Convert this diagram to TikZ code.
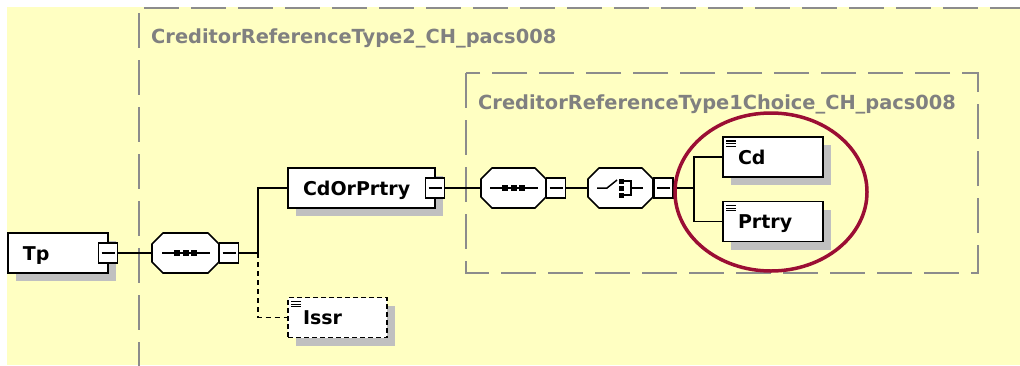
\documentclass[tikz,border=0pt]{standalone}
\usepackage{fontspec}
\setmainfont{DejaVu Sans}
\usetikzlibrary{shadows}
\definecolor{bgyellow}{RGB}{255,255,194}
\definecolor{dashgray}{RGB}{140,140,140}
\definecolor{lblgray}{RGB}{128,128,128}
\definecolor{shadowgray}{RGB}{192,192,192}
\definecolor{ovalred}{RGB}{155,14,52}
\newcommand\octpath[1]{([xshift=11pt]#1.north west) -- ([xshift=-11pt]#1.north east) -- ([yshift=-11pt]#1.north east) -- ([yshift=11pt]#1.south east) -- ([xshift=-11pt]#1.south east) -- ([xshift=11pt]#1.south west) -- ([yshift=11pt]#1.south west) -- ([yshift=-11pt]#1.north west) -- cycle}
\newcommand\octshape[1]{%
  \fill[shadowgray,shift={(8,8)}] \octpath{#1};
  \filldraw[fill=white,draw=black,line width=1.7pt,line join=round] \octpath{#1};}
\newcommand\seqicon[1]{%
  \begin{scope}[shift={(#1.center)}]
    \draw[line width=1.5pt] (-23.5,0) -- (24.5,0);
    \foreach \dx in {-8.5,0,8.5} \fill (\dx-3,-3) rectangle (\dx+3,3);
  \end{scope}}
\begin{document}
\begin{tikzpicture}[x=1pt,y=-1pt,
  font=\fontsize{19}{22}\selectfont\bfseries,
  shad/.style={copy shadow={shadow xshift=8pt,shadow yshift=-8pt,fill=shadowgray,draw=none}},
  elem/.style={rectangle,draw=black,line width=1.7pt,fill=white,shad,
    minimum height=40pt,inner xsep=15pt,inner ysep=0pt,text width=#1,align=left,
    text height=14pt,text depth=0pt},
  simple/.style={path picture={\foreach \k in {0,1,2}
      \draw[solid,line width=1.2pt] ([shift={(3pt,-4pt-\k*2.6pt)}]path picture bounding box.north west) -- ++(10pt,0pt);}},
  optional/.style={dash pattern=on 5pt off 3pt},
  minusbox/.style={rectangle,draw=black,line width=1.5pt,fill=white,minimum width=19pt,
    minimum height=20pt,inner sep=0pt,
    path picture={\draw[line width=1.5pt] ([xshift=3pt]path picture bounding box.west) -- ([xshift=-3pt]path picture bounding box.east);}},
  octo/.style={rectangle,draw=none,minimum width=#1,minimum height=40pt,inner sep=0pt,outer sep=0pt},
  conn/.style={line width=1.7pt,black},
  dconn/.style={line width=1.7pt,black,dash pattern=on 5pt off 4pt},
  grouplbl/.style={text=lblgray,inner sep=0pt,font=\fontsize{19.4}{22}\selectfont\bfseries},
  grpline/.style={draw=dashgray,line width=2pt,dash pattern=on 35pt off 12pt}
]
\useasboundingbox (0,0) rectangle (1020,365);
\fill[white] (0,0) rectangle (1020,365);
\fill[bgyellow] (7,7) rectangle (1020,365);
\begin{scope}
  \clip (0,0) rectangle (1020,365);
  \draw[grpline,dash phase=42pt] (139,8) -- (1040,8);
  \draw[grpline,dash phase=42pt] (139,8) -- (139,380);
\end{scope}
\draw[grpline] (466,73) rectangle (978,273);
\node[grouplbl,anchor=base west] (lblouter) at (151,43) {CreditorReferenceType2\_CH\_pacs008};
\node[grouplbl,anchor=base west] (lblinner) at (478,109) {CreditorReferenceType1Choice\_CH\_pacs008};

\node[elem=70pt] (tp) at (58,253) {Tp};
\node[minusbox] (tpm) at (108,253) {};
\node[octo=67pt] (seq1) at (185.5,253) {};
\octshape{seq1}
\node[minusbox] (seq1m) at (229,253) {};
\coordinate (j1) at (258,253);
\node[elem=117pt] (cop) at (361.5,188) {CdOrPrtry};
\node[minusbox] (copm) at (435,188) {};
\node[octo=65pt] (seq2) at (513.5,188) {};
\octshape{seq2}
\node[minusbox] (seq2m) at (556,188) {};
\node[octo=65pt] (ch) at (620.5,188) {};
\octshape{ch}
\node[minusbox] (chm) at (663.5,188) {};
\coordinate (j2) at (694,188);
\node[elem=70pt,simple] (cd) at (773,157) {Cd};
\node[elem=70pt,simple] (prtry) at (773,221.5) {Prtry};
\node[elem=69pt,simple,optional] (issr) at (337.5,317.5) {Issr};

\draw[conn] (tpm.east) -- (seq1.west);
\draw[conn] (seq1m.east) -- (j1);
\draw[conn] (j1) |- (cop.west);
\draw[dconn] (j1) |- (issr.west);
\draw[conn] (copm.east) -- (seq2.west);
\draw[conn] (seq2m.east) -- (ch.west);
\draw[conn] (chm.east) -- (j2);
\draw[conn] (j2) |- (cd.west);
\draw[conn] (j2) |- (prtry.west);

\seqicon{seq1}
\seqicon{seq2}
\begin{scope}[shift={(ch.center)},line width=1.5pt]
  \draw (-23.5,0) -- (-13.5,0) -- (-3.5,-8);
  \foreach \dy in {-7,0,7} \fill (-1.5,\dy-2.5) rectangle (3.5,\dy+2.5);
  \draw (3.5,-7) -- (10.5,-7) -- (10.5,7) -- (3.5,7);
  \draw (10.5,0) -- (22.5,0);
\end{scope}

\draw[ovalred,line width=3.5pt] (771,192) ellipse [x radius=96pt,y radius=79pt];
\end{tikzpicture}
\end{document}
